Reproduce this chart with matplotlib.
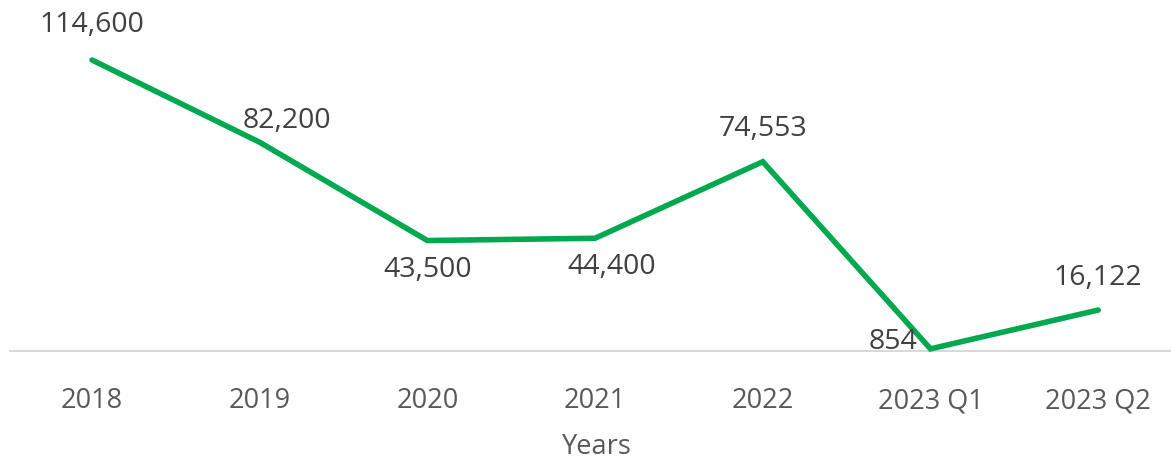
import matplotlib.pyplot as plt

categories = ['2018', '2019', '2020', '2021', '2022', '2023 Q1', '2023 Q2']
values = [114600, 82200, 43500, 44400, 74553, 854, 16122]

# label offsets in pixels (dx, dy) from each point
offsets = [(0, 35), (27, 21), (0, -29), (17, -29), (0, 33), (-38, 7), (0, 32)]

plt.rcParams['font.family'] = ['Open Sans', 'DejaVu Sans']

fig = plt.figure(figsize=(11.71, 4.62), dpi=100)
ax = fig.add_axes([0, 111 / 462, 1, 351 / 462])

x = list(range(len(categories)))
ax.plot(x, values, color='#00A84F', linewidth=4, solid_capstyle='round',
        solid_joinstyle='miter', clip_on=False, zorder=3)

for xi, v, (dx, dy) in zip(x, values, offsets):
    ax.annotate(f'{v:,}', (xi, v), xytext=(dx, dy), textcoords='offset pixels',
                ha='center', va='center', fontsize=20.5, color='#404040')

step = 167.7
left = -92 / step
ax.set_xlim(left, left + 1171 / step)
ax.set_ylim(0, 114600 * 351 / 291)

ax.set_xticks(x)
ax.set_xticklabels(categories, fontsize=19.5, color='#595959')
ax.tick_params(axis='x', length=0, pad=26)
ax.set_yticks([])
for s in ['top', 'right', 'left']:
    ax.spines[s].set_visible(False)
ax.spines['bottom'].set_color('#D9D9D9')
ax.spines['bottom'].set_linewidth(1.5)
ax.spines['bottom'].set_bounds(left + 10 / step, left + 1171 / step)

ax.set_xlabel('Years', fontsize=19.5, color='#595959')
ax.xaxis.set_label_coords(597 / 1171, -82 / 351)

fig.savefig('out.png', dpi=100)
